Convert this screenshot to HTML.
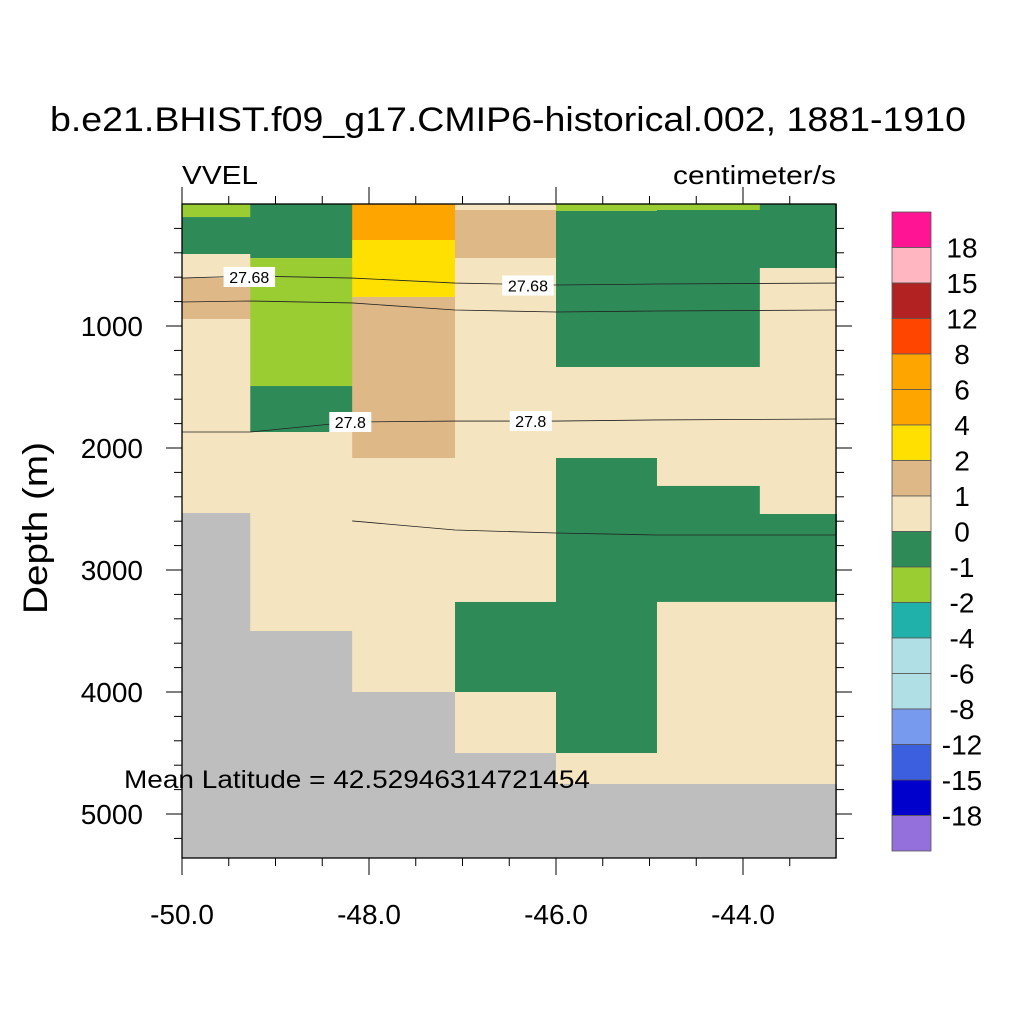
<!DOCTYPE html>
<html><head><meta charset="utf-8"><style>
html,body{margin:0;padding:0;background:#fff;}
svg text{font-family:"Liberation Sans",Arial,sans-serif;fill:#000;}
</style></head><body>
<svg id="chart" width="1024" height="1024" xmlns="http://www.w3.org/2000/svg">
<rect width="1024" height="1024" fill="#fff"/>
<text x="50" y="131" font-size="34" textLength="916" lengthAdjust="spacingAndGlyphs">b.e21.BHIST.f09_g17.CMIP6-historical.002, 1881-1910</text>
<text x="182" y="184" font-size="26" textLength="76" lengthAdjust="spacingAndGlyphs">VVEL</text>
<text x="673" y="184" font-size="26" textLength="163" lengthAdjust="spacingAndGlyphs">centimeter/s</text>
<text x="0" y="0" font-size="34" text-anchor="middle" textLength="172" lengthAdjust="spacingAndGlyphs" transform="translate(47,528) rotate(-90)">Depth (m)</text>
<g id="cells"></g><g id="contours"></g><g id="axes"></g><g id="cbar"></g>
<text x="124" y="788" font-size="25" textLength="466" lengthAdjust="spacingAndGlyphs">Mean Latitude = 42.52946314721454</text>
</svg>
<script>
const levels=["18","15","12","8","6","4","2","1","0","-1","-2","-4","-6","-8","-12","-15","-18"];
const cbColors=["#ff1493","#ffb6c1","#b22222","#ff4500","#ffa500","#ffa500","#ffe000","#deb887","#f5e4c0","#2e8b57","#9acd32","#20b2aa","#b0dfe5","#b0dfe5","#7799ee","#3c5fe0","#0000cd","#9370db"];
const colEdges=[-50,-49.27,-48.18,-47.08,-46.0,-44.92,-43.82,-43.0];
const columns=[
 [[0,107,"lg"],[107,410,"dg"],[410,607,"cr"],[607,943,"tan"],[943,2533,"cr"],[2533,5400,"land"]],
 [[0,443,"dg"],[443,1492,"lg"],[1492,1869,"dg"],[1869,3500,"cr"],[3500,5400,"land"]],
 [[0,295,"org"],[295,762,"yel"],[762,2082,"tan"],[2082,4000,"cr"],[4000,5400,"land"]],
 [[0,49,"cr"],[49,443,"tan"],[443,3262,"cr"],[3262,4000,"dg"],[4000,4500,"cr"],[4500,5400,"land"]],
 [[0,57,"lg"],[57,1336,"dg"],[1336,2082,"cr"],[2082,4500,"dg"],[4500,4754,"cr"],[4754,5400,"land"]],
 [[0,49,"lg"],[49,1336,"dg"],[1336,2311,"cr"],[2311,3262,"dg"],[3262,4754,"cr"],[4754,5400,"land"]],
 [[0,525,"dg"],[525,2541,"cr"],[2541,3262,"dg"],[3262,4754,"cr"],[4754,5400,"land"]]
];
const catColor={lg:"#9acd32",dg:"#2e8b57",cr:"#f5e4c0",tan:"#deb887",yel:"#ffe000",org:"#ffa500",land:"#bebebe"};
const contourLons=[-50,-49.27,-48.18,-47.08,-46.0,-44.92,-43.0];
const contour1=[607,590,607,648,664,656,648];
const contour2=[803,795,811,869,885,877,869];
const contour3=[1869,1869,1787,1779,1779,1770,1762];
const contour4Lons=[-48.18,-47.08,-46.0,-44.92,-43.0];
const contour4=[2598,2672,2697,2713,2713];
const labels=[{t:"27.68",lon:-49.28,d:598},{t:"27.68",lon:-46.3,d:668},{t:"27.8",lon:-48.2,d:1787},{t:"27.8",lon:-46.27,d:1779}];
const xTicks=[-50,-48,-46,-44];
const yTicks=[1000,2000,3000,4000,5000];

const L=182,R=836,T=204,B=858;
const X=v=>L+(v+50)*93.5;
const Y=d=>T+d*0.122;
const NS="http://www.w3.org/2000/svg";
function mk(tag,attrs,parent){const e=document.createElementNS(NS,tag);for(const k in attrs)e.setAttribute(k,attrs[k]);parent.appendChild(e);return e;}
const gc=document.getElementById('cells');
columns.forEach((col,i)=>{col.forEach(s=>{
 const r=mk('rect',{x:X(colEdges[i]),y:Y(s[0]),width:X(colEdges[i+1])-X(colEdges[i])+0.5,height:Math.min(B,Y(s[1]))-Y(s[0]),fill:catColor[s[2]]},gc);
 
 
});});
const gl=document.getElementById('contours');
function line(lons,ds){const p=mk('polyline',{points:lons.map((l,i)=>X(l)+','+Y(ds[i])).join(' '),fill:'none',stroke:'#222',"stroke-width":0.8},gl);
 
 }
line(contourLons,contour1);line(contourLons,contour2);line(contourLons,contour3);line(contour4Lons,contour4);
labels.forEach(lb=>{const w=lb.t.length*9.5+4;
 const g=mk('g',{},gl);
 
 
 mk('rect',{x:X(lb.lon)-w/2,y:Y(lb.d)-10,width:w,height:20,fill:'#fff'},g);
 mk('text',{x:X(lb.lon),y:Y(lb.d)+6,"font-size":16,"text-anchor":"middle"},g).textContent=lb.t;});
const ga=document.getElementById('axes');
const fr=mk('rect',{x:L,y:T,width:R-L,height:B-T,fill:'none',stroke:'#000',"stroke-width":1.3},ga);


for(let v=-50;v<=-43.001;v+=0.5){const maj=Math.abs(v-Math.round(v/2)*2)<1e-6;const len=maj?17:8;
 mk('line',{x1:X(v),x2:X(v),y1:B,y2:B+len,stroke:'#000'},ga);mk('line',{x1:X(v),x2:X(v),y1:T,y2:T-len,stroke:'#000'},ga);}
for(let d=200;d<=5360;d+=200){const maj=d%1000===0;const len=maj?16:8;
 mk('line',{x1:L,x2:L-len,y1:Y(d),y2:Y(d),stroke:'#000'},ga);mk('line',{x1:R,x2:R+len,y1:Y(d),y2:Y(d),stroke:'#000'},ga);}
xTicks.forEach(v=>{const t=mk('text',{x:X(v),y:924,"font-size":28,"text-anchor":"middle"},ga);t.textContent=v.toFixed(1);
 
 });
yTicks.forEach(d=>{const t=mk('text',{x:143,y:Y(d)+10,"font-size":28,"text-anchor":"end"},ga);t.textContent=d;
 
 });
const gb=document.getElementById('cbar');
const cbT=212,cbH=35.5;
cbColors.forEach((c,i)=>{const r=mk('rect',{x:892,y:cbT+i*cbH,width:39,height:cbH,fill:c,stroke:'#555',"stroke-width":0.8},gb);
 
 });
levels.forEach((l,i)=>{const t=mk('text',{x:962,y:cbT+(i+1)*cbH+10,"font-size":28,"text-anchor":"middle"},gb);t.textContent=l;
 
 });
</script>
</body></html>
